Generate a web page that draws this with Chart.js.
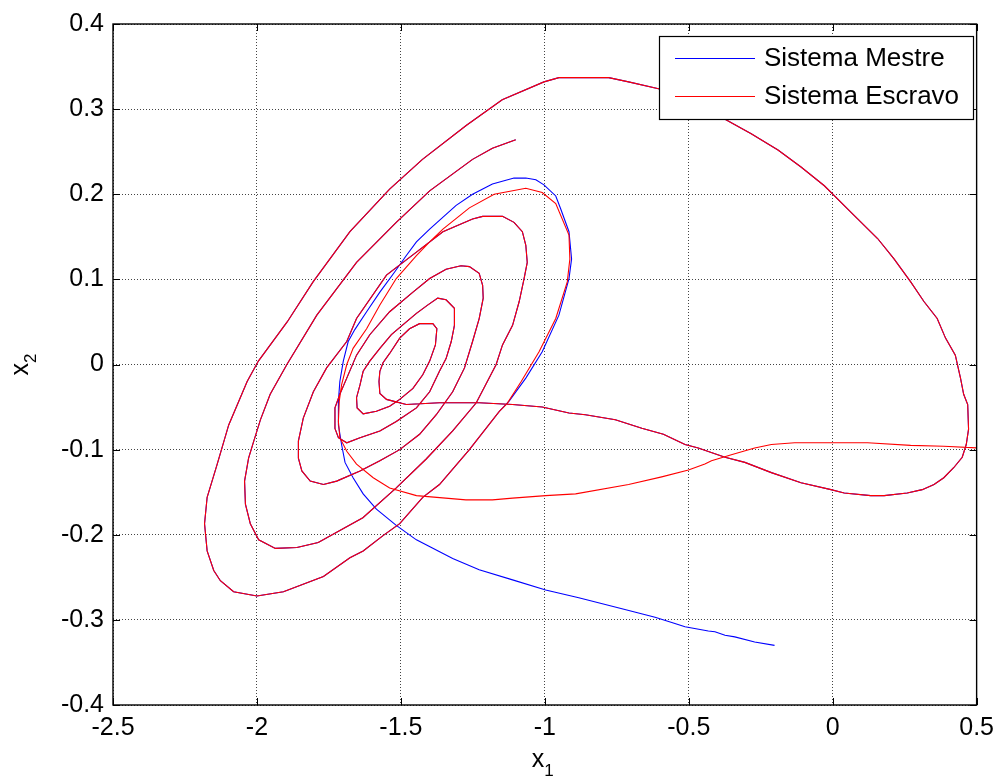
<!DOCTYPE html>
<html>
<head>
<meta charset="utf-8">
<title>Sistema Mestre / Escravo</title>
<script src="https://cdn.jsdelivr.net/npm/chart.js@4.4.0/dist/chart.umd.min.js"></script>
<style>
  html, body { margin: 0; padding: 0; background: #fff; }
  #wrap { width: 1002px; height: 780px; }
</style>
</head>
<body>
<div id="wrap"><canvas id="phaseChart" width="1002" height="780"></canvas></div>
<script>
// axis ticks
const xTicks = [-2.5, -2, -1.5, -1, -0.5, 0, 0.5];
const xTickLabels = ['-2.5', '-2', '-1.5', '-1', '-0.5', '0', '0.5'];
const yTicks = [-0.4, -0.3, -0.2, -0.1, 0, 0.1, 0.2, 0.3, 0.4];
const yTickLabels = ['-0.4', '-0.3', '-0.2', '-0.1', '0', '0.1', '0.2', '0.3', '0.4'];

// master trajectory before it meets the slave  [x1, x2]
const masterStart = [
  [-0.202, -0.330], [-0.271, -0.326], [-0.340, -0.320], [-0.374, -0.318], [-0.409, -0.314],
  [-0.432, -0.313], [-0.513, -0.308], [-0.559, -0.303], [-0.617, -0.297], [-0.732, -0.287],
  [-0.882, -0.274], [-0.997, -0.265], [-1.112, -0.253], [-1.228, -0.241], [-1.320, -0.228],
  [-1.446, -0.206], [-1.516, -0.189], [-1.585, -0.170], [-1.631, -0.152], [-1.666, -0.133],
  [-1.694, -0.115], [-1.706, -0.094], [-1.717, -0.071], [-1.717, -0.043], [-1.712, -0.020],
  [-1.700, 0.004], [-1.683, 0.027], [-1.660, 0.041], [-1.619, 0.062], [-1.573, 0.085],
  [-1.521, 0.109], [-1.481, 0.128], [-1.446, 0.144], [-1.400, 0.159], [-1.308, 0.187],
  [-1.251, 0.200], [-1.182, 0.212], [-1.107, 0.219], [-1.066, 0.219], [-1.031, 0.217],
  [-1.003, 0.211], [-0.962, 0.198], [-0.945, 0.183], [-0.916, 0.156], [-0.907, 0.124],
  [-0.916, 0.101], [-0.951, 0.058], [-1.009, 0.015], [-1.066, -0.016], [-1.124, -0.043]
];

// slave trajectory before it meets the master
const slaveStart = [
  [0.500, -0.098], [0.386, -0.096], [0.271, -0.095], [0.121, -0.092], [-0.132, -0.092],
  [-0.213, -0.094], [-0.271, -0.098], [-0.352, -0.106], [-0.421, -0.113], [-0.444, -0.117],
  [-0.501, -0.124], [-0.594, -0.132], [-0.709, -0.141], [-0.893, -0.152], [-0.997, -0.154],
  [-1.112, -0.157], [-1.182, -0.159], [-1.274, -0.159], [-1.446, -0.154], [-1.539, -0.145],
  [-1.596, -0.133], [-1.654, -0.117], [-1.688, -0.102], [-1.712, -0.086], [-1.717, -0.067],
  [-1.714, -0.043], [-1.706, -0.024], [-1.688, 0.000], [-1.666, 0.019], [-1.619, 0.042],
  [-1.573, 0.070], [-1.516, 0.101], [-1.446, 0.128], [-1.400, 0.144], [-1.354, 0.159],
  [-1.262, 0.184], [-1.176, 0.200], [-1.066, 0.207], [-1.009, 0.202], [-0.962, 0.189],
  [-0.916, 0.152], [-0.913, 0.124], [-0.922, 0.097], [-0.962, 0.054], [-1.020, 0.015],
  [-1.082, -0.020], [-1.131, -0.046]
];

// common part once both systems are synchronised
const syncPath = [
  [-1.158, -0.055], [-1.262, -0.100], [-1.366, -0.141], [-1.424, -0.156], [-1.504, -0.187],
  [-1.562, -0.201], [-1.631, -0.219], [-1.677, -0.227], [-1.769, -0.249], [-1.908, -0.267],
  [-2.000, -0.272], [-2.081, -0.267], [-2.127, -0.254], [-2.150, -0.242], [-2.173, -0.219],
  [-2.182, -0.187], [-2.173, -0.156], [-2.138, -0.117], [-2.098, -0.071], [-2.034, -0.020],
  [-1.995, 0.004], [-1.895, 0.050], [-1.805, 0.097], [-1.677, 0.156], [-1.539, 0.206],
  [-1.425, 0.241], [-1.272, 0.281], [-1.148, 0.311], [-1.003, 0.332], [-0.951, 0.337],
  [-0.778, 0.337], [-0.709, 0.332], [-0.605, 0.324], [-0.491, 0.310], [-0.374, 0.288],
  [-0.283, 0.271], [-0.190, 0.252], [-0.110, 0.232], [-0.029, 0.210], [0.063, 0.179],
  [0.156, 0.148], [0.213, 0.124], [0.271, 0.097], [0.317, 0.074], [0.363, 0.054],
  [0.392, 0.031], [0.426, 0.011], [0.444, -0.016], [0.455, -0.035], [0.469, -0.047],
  [0.472, -0.076], [0.464, -0.094], [0.450, -0.109], [0.421, -0.121], [0.386, -0.133],
  [0.352, -0.141], [0.311, -0.147], [0.259, -0.151], [0.179, -0.154], [0.132, -0.154],
  [0.040, -0.151], [-0.006, -0.147], [-0.110, -0.139], [-0.213, -0.127], [-0.305, -0.115],
  [-0.374, -0.109], [-0.467, -0.098], [-0.513, -0.094], [-0.588, -0.082], [-0.663, -0.075],
  [-0.755, -0.065], [-0.859, -0.059], [-0.916, -0.057], [-1.009, -0.050], [-1.112, -0.047],
  [-1.228, -0.045], [-1.366, -0.045], [-1.481, -0.047], [-1.527, -0.043], [-1.550, -0.041],
  [-1.573, -0.034],
  // spiral outwards
  [-1.576, -0.020], [-1.573, -0.008], [-1.562, 0.002], [-1.539, 0.013], [-1.504, 0.031],
  [-1.470, 0.042], [-1.435, 0.048], [-1.389, 0.048], [-1.375, 0.042], [-1.380, 0.023],
  [-1.400, 0.004], [-1.424, -0.012], [-1.458, -0.028], [-1.504, -0.041], [-1.539, -0.049],
  [-1.585, -0.055], [-1.631, -0.058], [-1.652, -0.051], [-1.654, -0.039], [-1.642, -0.024],
  [-1.631, -0.008], [-1.608, 0.004], [-1.573, 0.019], [-1.533, 0.035], [-1.481, 0.050],
  [-1.446, 0.060], [-1.406, 0.070], [-1.372, 0.078], [-1.343, 0.076], [-1.314, 0.066],
  [-1.314, 0.046], [-1.325, 0.027], [-1.343, 0.007], [-1.366, -0.008], [-1.400, -0.032],
  [-1.446, -0.051], [-1.516, -0.067], [-1.573, -0.078], [-1.642, -0.086], [-1.688, -0.092],
  [-1.717, -0.086], [-1.729, -0.075], [-1.729, -0.051], [-1.712, -0.035], [-1.688, -0.016],
  [-1.654, 0.011], [-1.608, 0.035], [-1.539, 0.062], [-1.458, 0.085], [-1.400, 0.101],
  [-1.343, 0.112], [-1.291, 0.116], [-1.262, 0.115], [-1.228, 0.107], [-1.216, 0.093],
  [-1.214, 0.078], [-1.228, 0.054], [-1.251, 0.027], [-1.279, -0.004], [-1.320, -0.032],
  [-1.377, -0.059], [-1.435, -0.082], [-1.504, -0.100], [-1.573, -0.113], [-1.642, -0.125],
  [-1.723, -0.137], [-1.769, -0.141], [-1.815, -0.137], [-1.844, -0.125], [-1.856, -0.110],
  [-1.856, -0.090], [-1.839, -0.063], [-1.804, -0.032], [-1.758, -0.004], [-1.688, 0.027],
  [-1.654, 0.054], [-1.550, 0.105], [-1.446, 0.132], [-1.354, 0.156], [-1.251, 0.171],
  [-1.216, 0.174], [-1.147, 0.174], [-1.107, 0.167], [-1.078, 0.156], [-1.066, 0.140],
  [-1.061, 0.120], [-1.072, 0.101], [-1.089, 0.074], [-1.112, 0.046], [-1.147, 0.023],
  [-1.169, 0.000], [-1.238, -0.045], [-1.320, -0.078], [-1.412, -0.111], [-1.516, -0.145],
  [-1.632, -0.180], [-1.712, -0.195], [-1.787, -0.209], [-1.861, -0.215], [-1.936, -0.216],
  [-1.994, -0.206], [-2.023, -0.187], [-2.040, -0.164], [-2.043, -0.137], [-2.029, -0.110],
  [-2.011, -0.090], [-1.988, -0.065], [-1.954, -0.035], [-1.896, 0.000], [-1.792, 0.058],
  [-1.654, 0.120], [-1.516, 0.167], [-1.400, 0.204], [-1.251, 0.241], [-1.182, 0.254],
  [-1.101, 0.264]
];

const FONT = "'Liberation Sans', Arial, Helvetica, sans-serif";

const toPoints = arr => arr.map(p => ({ x: p[0], y: p[1] }));
const masterPoints = toPoints(masterStart.concat(syncPath));
const slavePoints = toPoints(slaveStart.concat(syncPath));

// frame, inner tick marks, axis labels with subscripts and the legend box (MATLAB look)
const matlabDecor = {
    id: 'matlabDecor',
    afterDraw(chart) {
        const ctx = chart.ctx;
        const a = chart.chartArea;
        const sx = chart.scales.x, sy = chart.scales.y;

        ctx.save();
        ctx.strokeStyle = '#000';
        ctx.lineWidth = 1;
        ctx.beginPath();
        xTicks.forEach(v => {
            const px = Math.round(sx.getPixelForValue(v)) + 0.5;
            ctx.moveTo(px, a.bottom); ctx.lineTo(px, a.bottom - 7);
            ctx.moveTo(px, a.top); ctx.lineTo(px, a.top + 7);
        });
        yTicks.forEach(v => {
            const py = Math.round(sy.getPixelForValue(v)) + 0.5;
            ctx.moveTo(a.left, py); ctx.lineTo(a.left + 7, py);
            ctx.moveTo(a.right, py); ctx.lineTo(a.right - 7, py);
        });
        ctx.stroke();

        ctx.lineWidth = 1.4;
        ctx.strokeRect(a.left, a.top, a.right - a.left, a.bottom - a.top);

        // axis labels
        ctx.fillStyle = '#000';
        ctx.textBaseline = 'alphabetic';
        ctx.textAlign = 'left';
        const big = '25px ' + FONT, small = '17px ' + FONT;
        ctx.font = big;
        const wx = ctx.measureText('x').width;
        ctx.font = small;
        const w1 = ctx.measureText('1').width;
        let x0 = (a.left + a.right) / 2 - (wx + w1) / 2 - 2;
        ctx.font = big;
        ctx.fillText('x', x0, 767);
        ctx.font = small;
        ctx.fillText('1', x0 + wx, 776);

        ctx.save();
        ctx.translate(28, (a.top + a.bottom) / 2);
        ctx.rotate(-Math.PI / 2);
        ctx.font = small;
        const w2 = ctx.measureText('2').width;
        x0 = -(wx + w2) / 2;
        ctx.font = big;
        ctx.fillText('x', x0, 0);
        ctx.font = small;
        ctx.fillText('2', x0 + wx, 8);
        ctx.restore();

        // legend
        const box = { x: 659, y: 36, w: 314, h: 83 };
        ctx.fillStyle = '#fff';
        ctx.fillRect(box.x, box.y, box.w, box.h);
        ctx.lineWidth = 1.2;
        ctx.strokeStyle = '#000';
        ctx.strokeRect(box.x + 0.5, box.y + 0.5, box.w, box.h);
        const rows = [58, 96];
        ctx.font = '26px ' + FONT;
        ctx.textBaseline = 'middle';
        chart.data.datasets.forEach((ds, i) => {
            ctx.strokeStyle = ds.borderColor;
            ctx.lineWidth = 1;
            ctx.beginPath();
            ctx.moveTo(675, rows[i] + 0.5);
            ctx.lineTo(755, rows[i] + 0.5);
            ctx.stroke();
            ctx.fillStyle = '#000';
            ctx.fillText(ds.label, 764, rows[i] + 1);
        });
        ctx.restore();
    }
};

const tickFont = { family: FONT, size: 25 };

new Chart(document.getElementById('phaseChart').getContext('2d'), {
    type: 'scatter',
    data: {
        datasets: [
            {
                label: 'Sistema Mestre',
                data: masterPoints,
                showLine: true,
                borderColor: '#0000ff',
                borderWidth: 1.1,
                pointRadius: 0,
                tension: 0,
                order: 1
            },
            {
                label: 'Sistema Escravo',
                data: slavePoints,
                showLine: true,
                borderColor: '#ff0000',
                borderWidth: 1.1,
                pointRadius: 0,
                tension: 0,
                order: 0
            }
        ]
    },
    options: {
        responsive: false,
        animation: false,
        events: [],
        layout: { padding: { top: 21, right: 22, left: 0, bottom: 0 } },
        plugins: {
            legend: { display: false },
            tooltip: { enabled: false }
        },
        scales: {
            x: {
                type: 'linear',
                min: -2.5,
                max: 0.5,
                afterBuildTicks: s => { s.ticks = xTicks.map(v => ({ value: v })); },
                afterFit: s => { s.height = 75; },
                ticks: {
                    callback: (v, i) => xTickLabels[i],
                    color: '#000',
                    font: tickFont,
                    padding: 8,
                    maxRotation: 0,
                    autoSkip: false
                },
                grid: { color: '#444', lineWidth: 1, drawTicks: false },
                border: { display: false, dash: [1, 2] }
            },
            y: {
                type: 'linear',
                min: -0.4,
                max: 0.4,
                afterBuildTicks: s => { s.ticks = yTicks.map(v => ({ value: v })); },
                afterFit: s => { s.width = 113; },
                ticks: {
                    callback: (v, i) => yTickLabels[i],
                    color: '#000',
                    font: tickFont,
                    padding: 9,
                    autoSkip: false
                },
                grid: { color: '#444', lineWidth: 1, drawTicks: false },
                border: { display: false, dash: [1, 2] }
            }
        }
    },
    plugins: [matlabDecor]
});
</script>
</body>
</html>
